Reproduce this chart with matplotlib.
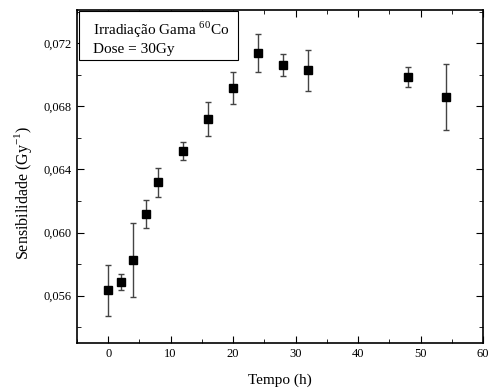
import numpy as np
import matplotlib
matplotlib.use('Agg')
from matplotlib import pyplot as plt
from matplotlib.ticker import MultipleLocator, FuncFormatter
from matplotlib.patches import Rectangle

plt.rcParams['font.family'] = ['Liberation Serif', 'DejaVu Serif']
plt.rcParams['mathtext.fontset'] = 'custom'
plt.rcParams['mathtext.rm'] = 'Liberation Serif'

# tempo (h), sensibilidade (Gy^-1) and its error
tempo = [0, 2, 4, 6, 8, 12, 16, 20, 24, 28, 32, 48, 54]
sens = [0.05634, 0.05687, 0.05826, 0.06117, 0.06317, 0.06518, 0.06718,
        0.06917, 0.07135, 0.07061, 0.07029, 0.06985, 0.06860]
erro = [0.00162, 0.00052, 0.00235, 0.00089, 0.00090, 0.00058, 0.00109,
        0.00100, 0.00121, 0.00068, 0.00130, 0.00064, 0.00210]

fig = plt.figure(figsize=(4.93, 3.92), dpi=100)
ax = fig.add_axes([0.156, 0.125, 0.824, 0.8495])

ax.errorbar(tempo, sens, yerr=erro, fmt='s', color='black', ms=5.5,
            ecolor='#444444', elinewidth=1, capsize=2.5, capthick=1)

ax.set_xlim(-5, 60)
ax.set_ylim(0.0530, 0.0741)
ax.xaxis.set_major_locator(MultipleLocator(10))
ax.xaxis.set_minor_locator(MultipleLocator(5))
ax.yaxis.set_major_locator(MultipleLocator(0.004))
ax.yaxis.set_minor_locator(MultipleLocator(0.002))
ax.yaxis.set_major_formatter(FuncFormatter(lambda v, p: ('%.3f' % v).replace('.', ',')))
ax.tick_params(which='both', direction='in', top=True, right=True, labelsize=9)
ax.tick_params(which='major', length=5)
ax.tick_params(which='minor', length=3)
for s in ax.spines.values():
    s.set_linewidth(1.2)

ax.set_xlabel('Tempo (h)', fontsize=11, labelpad=10)
ax.set_ylabel('Sensibilidade (Gy$^{-1}$)', fontsize=11.5)
ax.yaxis.set_label_coords(-0.105, 0.45)

# legend-like box in the upper left corner
ax.add_patch(Rectangle((0.005, 0.85), 0.392, 0.148, transform=ax.transAxes,
                       fc='white', ec='black', lw=0.8, zorder=4))
ax.text(0.039, 0.97, 'Irradiação Gama $^{60}$Co\nDose = 30Gy', transform=ax.transAxes,
        fontsize=11, va='top', ha='left', linespacing=1.3, zorder=5)

fig.savefig('out.png', dpi=100)
